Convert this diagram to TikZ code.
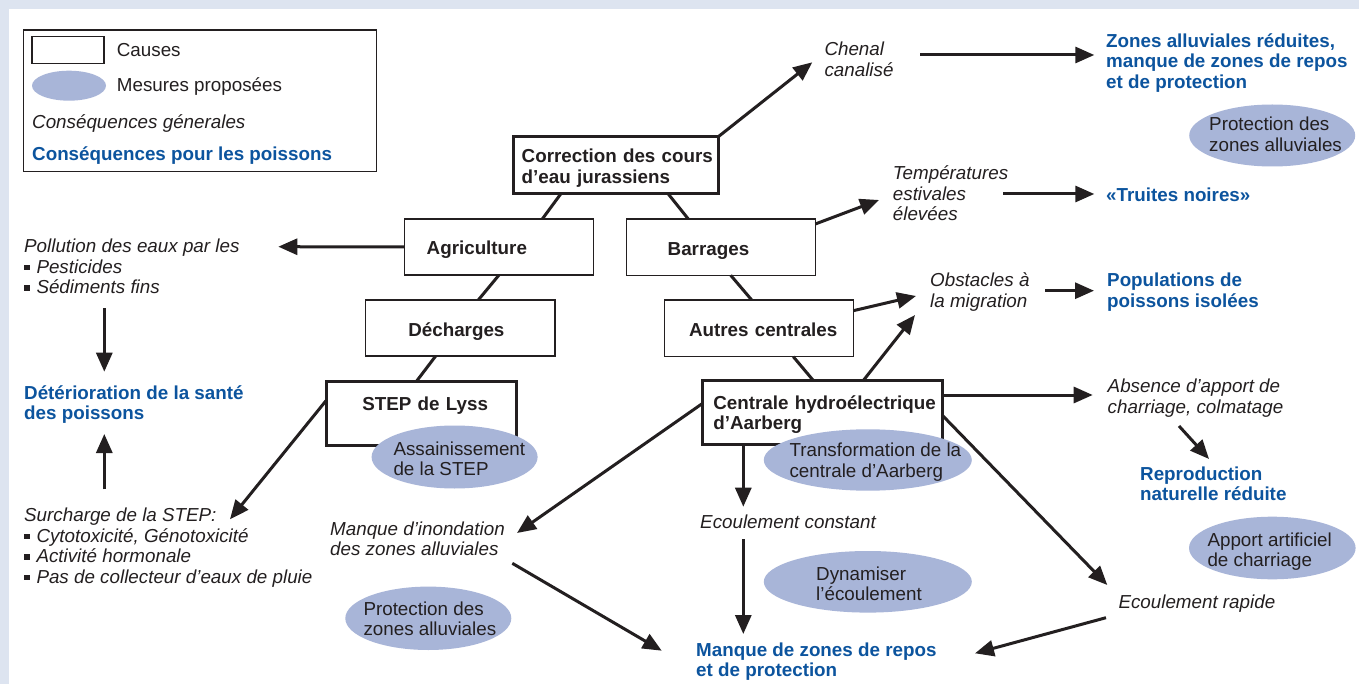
\documentclass[tikz,border=0pt]{standalone}
\usepackage{fontspec}
\setmainfont{Liberation Sans}
\usetikzlibrary{arrows.meta, shapes.geometric}

\definecolor{ink}{RGB}{35,31,32}
\definecolor{fishblue}{RGB}{12,84,158}
\definecolor{measurefill}{RGB}{168,181,216}
\definecolor{framebg}{RGB}{221,228,240}

\newcommand{\basefont}{\fontsize{18.8}{20.5}\selectfont}
\newcommand{\blt}{\rule[2.8pt]{5.8pt}{5.8pt}\hspace{6.5pt}}

\tikzset{
  cause/.style = {draw = ink, line width = 1.3pt, fill = white, inner sep = 0pt, outer sep = 0pt, align = left, anchor = base west, text = ink, font = \basefont\bfseries},
  maincause/.style = {cause, line width = 3pt},
  measure/.style = {ellipse, fill = measurefill, inner sep = 0pt},
  plain/.style = {inner sep = 0pt, anchor = base west, align = left, text = ink, font = \basefont},
  general/.style = {plain, font = \basefont\itshape},
  fish/.style = {plain, text = fishblue, font = \basefont\bfseries},
  link/.style = {draw = ink, line width = 3pt},
  arr/.style = {link, -{Triangle[length = 19pt, width = 16pt]}}
}

\begin{document}
\begin{tikzpicture}[x = 1pt, y = -1pt]
\useasboundingbox (0,0) rectangle (1359,684);
\fill[framebg] (0,0) rectangle (1359,684);
\fill[white] (9,9) rectangle (1359,684);

% legend
\draw[draw = ink, line width = 1.2pt] (23.3,30) rectangle (376.7,171.7);
\draw[draw = ink, line width = 1.2pt] (32,36.7) rectangle (104,63.3);
\node[measure, minimum width = 74pt, minimum height = 30pt] (legmeasure) at (69,85.7) {};
\node[plain] (legcause) at (116.7,56.7) {Causes};
\node[plain] (legmes) at (116.7,91.7) {Mesures proposées};
\node[general] (leggen) at (32,128.3) {Conséquences génerales};
\node[fish] (legfish) at (32,160.7) {Conséquences pour les poissons};

% causes
\node[maincause, text width = 205pt, text height = 26.3pt, text depth = 31pt, execute at begin node = {\leftskip = 8.4pt}] (corr) at (513.3,163) {Correction des cours\\d’eau jurassiens};
\node[cause, text width = 189pt, text height = 36pt, text depth = 20pt, execute at begin node = {\leftskip = 22.4pt}] (agri) at (404.3,255) {Agriculture};
\node[cause, text width = 188.6pt, text height = 36.7pt, text depth = 19.6pt, execute at begin node = {\leftskip = 41pt}] (barr) at (626.7,255.7) {Barrages};
\node[cause, text width = 189.3pt, text height = 36.7pt, text depth = 19.3pt, execute at begin node = {\leftskip = 42.6pt}] (dech) at (365.7,336.7) {Décharges};
\node[cause, text width = 189pt, text height = 36.7pt, text depth = 20pt, execute at begin node = {\leftskip = 24.7pt}] (autres) at (664.3,336.7) {Autres centrales};
\node[maincause, text width = 190pt, text height = 29pt, text depth = 35pt, execute at begin node = {\leftskip = 36.3pt}] (step) at (326,410) {STEP de Lyss};
\node[maincause, text width = 240pt, text height = 28.8pt, text depth = 34.7pt, execute at begin node = {\leftskip = 10.6pt}] (aarb) at (702.7,409.3) {Centrale hydroélectrique\\d’Aarberg};

\draw[link] ([xshift = 47.4pt]corr.south west) -- ([xshift = 138pt]agri.north west);
\draw[link] ([xshift = 155pt]corr.south west) -- ([xshift = 61.6pt]barr.north west);
\draw[link] ([xshift = 94.7pt]agri.south west) -- ([xshift = 112.6pt]dech.north west);
\draw[link] ([xshift = 70pt]dech.south west) -- ([xshift = 90.7pt]step.north west);
\draw[link] ([xshift = 104pt]barr.south west) -- ([xshift = 87.4pt]autres.north west);
\draw[link] ([xshift = 129pt]autres.south west) -- ([xshift = 110.6pt]aarb.north west);

% consequences (base = last line)
\node[general] (chenal) at (824.3,76.2) {Chenal\\canalisé};
\node[fish] (zones) at (1106,88.3) {Zones alluviales réduites,\\manque de zones de repos\\et de protection};
\node[general] (temp) at (892.7,221) {Températures\\estivales\\élevées};
\node[fish] (truites) at (1106,201.7) {«Truites noires»};
\node[general] (obst) at (930,307.2) {Obstacles à\\la migration};
\node[fish] (popul) at (1107,307.2) {Populations de\\poissons isolées};
\node[general] (pollu) at (24,293.7) {Pollution des eaux par les\\\blt Pesticides\\\blt Sédiments fins};
\node[fish] (deter) at (24,419.8) {Détérioration de la santé\\des poissons};
\node[general] (surch) at (24,583.2) {Surcharge de la STEP:\\\blt Cytotoxicité, Génotoxicité\\\blt Activité hormonale\\\blt Pas de collecteur d’eaux de pluie};
\node[general] (inond) at (330,555.5) {Manque d’inondation\\des zones alluviales};
\node[general] (absence) at (1107.5,413.2) {Absence d’apport de\\charriage, colmatage};
\node[fish] (repro) at (1140,500.5) {Reproduction\\naturelle réduite};
\node[general] (ecconst) at (700,528.3) {Ecoulement constant};
\node[general] (ecrap) at (1118.3,608.3) {Ecoulement rapide};
\node[fish] (manque) at (696,676.5) {Manque de zones de repos\\et de protection};

\coordinate (chenalin) at (812.3,62.3);
\coordinate (chenalout) at (920,55);
\coordinate (zonesin) at (1094.3,55);
\coordinate (tempin) at (879,200);
\coordinate (tempout) at (1003.3,194);
\coordinate (truitesin) at (1094.3,194);
\coordinate (obstin) at (916,296);
\coordinate (obstinb) at (915,315);
\coordinate (obstout) at (1045,290.7);
\coordinate (populin) at (1094,290.7);
\coordinate (polluin) at (278.3,246.7);
\coordinate (polluout) at (104.3,308.3);
\coordinate (deterin) at (104.3,371.7);
\coordinate (deterinb) at (104.3,434);
\coordinate (surchout) at (104.3,489.3);
\coordinate (surchin) at (230,519.3);
\coordinate (absencein) at (1092.7,395);
\coordinate (absenceout) at (1179,426);
\coordinate (reproin) at (1209,459);
\coordinate (ecrapin) at (1107.3,585);
\coordinate (ecrapout) at (1106,617.7);
\coordinate (inondin) at (517,533);
\coordinate (inondout) at (512.3,563.3);
\coordinate (ecconstin) at (743.3,506.7);
\coordinate (ecconstout) at (743.3,539.3);
\coordinate (manquein) at (743.3,634);
\coordinate (manqueinl) at (661.7,650.7);
\coordinate (manqueinr) at (975,653.3);

\draw[arr] (corr.north east) -- (chenalin);
\draw[arr] (chenalout) -- (zonesin);
\draw[arr] ([yshift = -5pt]barr.north east) -- (tempin);
\draw[arr] (tempout) -- (truitesin);
\draw[arr] ([yshift = -10.7pt]autres.north east) -- (obstin);
\draw[arr] ([xshift = 160.6pt]aarb.north west) -- (obstinb);
\draw[arr] (obstout) -- (populin);
\draw[arr] (agri.west) -- (polluin);
\draw[arr] (polluout) -- (deterin);
\draw[arr] (surchout) -- (deterinb);
\draw[arr] ([yshift = -19.7pt]step.north west) -- (surchin);
\draw[arr] ([yshift = -14.5pt]aarb.north east) -- (absencein);
\draw[arr] (absenceout) -- (reproin);
\draw[arr] ([yshift = -35.2pt]aarb.north east) -- (ecrapin);
\draw[arr] ([yshift = -22.8pt]aarb.north west) -- (inondin);
\draw[arr] ([xshift = 40.6pt]aarb.south west) -- (ecconstin);
\draw[arr] (ecconstout) -- (manquein);
\draw[arr] (inondout) -- (manqueinl);
\draw[arr] (ecrapout) -- (manqueinr);

% measures
\node[measure, minimum width = 166pt, minimum height = 62pt] (protzones) at (1272.2,135.5) {};
\node[measure, minimum width = 166pt, minimum height = 63pt] (assain) at (454.6,457) {};
\node[measure, minimum width = 208pt, minimum height = 61.4pt] (transf) at (867.8,460) {};
\node[measure, minimum width = 208pt, minimum height = 61.6pt] (dynam) at (867.8,581.8) {};
\node[measure, minimum width = 166pt, minimum height = 63.4pt] (protinond) at (428.3,618.3) {};
\node[measure, minimum width = 166.6pt, minimum height = 62.6pt] (apport) at (1272.3,548) {};
\node[plain] (protzonestext) at (1209,151.2) {Protection des\\zones alluviales};
\node[plain] (assaintext) at (393.3,475.5) {Assainissement\\de la STEP};
\node[plain] (transftext) at (789.3,477.2) {Transformation de la\\centrale d’Aarberg};
\node[plain] (dynamtext) at (816,600.5) {Dynamiser\\l’écoulement};
\node[plain] (protinondtext) at (363.3,635.5) {Protection des\\zones alluviales};
\node[plain] (apporttext) at (1207.3,566.5) {Apport artificiel\\de charriage};
\end{tikzpicture}
\end{document}
